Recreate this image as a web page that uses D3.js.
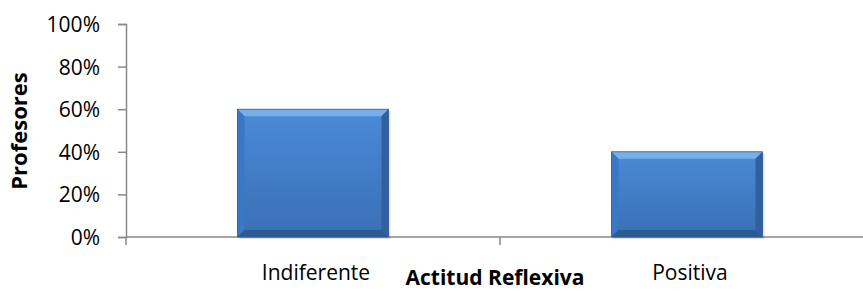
<!DOCTYPE html>
<meta charset="utf-8">
<style>
    body { margin: 0; background: #fff; }
    text { font-family: "Open Sans", "Liberation Sans", sans-serif; fill: #000; }
</style>
<body>
<script src="https://d3js.org/d3.v7.min.js"></script>
<script>
    var categories = ["Indiferente", "Positiva"];
    var values = [0.6, 0.4];
    var yTicks = [0, 0.2, 0.4, 0.6, 0.8, 1.0];

    var W = 863, H = 291;
    var margin = {top: 24, left: 126},
        width = 748,
        height = 213;

    var svg = d3.select("body").append("svg")
        .attr("width", W)
        .attr("height", H);

    var defs = svg.append("defs");
    var grad = defs.append("linearGradient").attr("id", "barGrad")
        .attr("x1", 0).attr("y1", 0).attr("x2", 0).attr("y2", 1);
    grad.append("stop").attr("offset", "0%").attr("stop-color", "#4a8ad8");
    grad.append("stop").attr("offset", "100%").attr("stop-color", "#3a6fb4");

    var g = svg.append("g")
        .attr("transform", "translate(" + margin.left + "," + margin.top + ")");

    var x = d3.scaleBand()
        .domain(categories)
        .range([0, width]);

    var y = d3.scaleLinear()
        .domain([0, 1])
        .range([height, 0]);

    // y axis
    var yAxis = g.append("g")
        .call(d3.axisLeft(y).tickValues(yTicks).tickFormat(d3.format(".0%")).tickSize(8).tickPadding(18));
    yAxis.select(".domain").attr("stroke", "#888").attr("stroke-width", 1.5);
    yAxis.selectAll(".tick line").attr("stroke", "#888").attr("stroke-width", 1.5);
    yAxis.selectAll(".tick text").style("font-size", "21px").attr("fill", "#000").attr("dy", "0.36em");

    // x axis
    var xAxis = g.append("g")
        .attr("transform", "translate(0," + height + ")");
    xAxis.append("line")
        .attr("x1", 0).attr("x2", width)
        .attr("stroke", "#888").attr("stroke-width", 1.5);
    var bounds = [0].concat(categories.map(c => x(c) + x.bandwidth()));
    xAxis.selectAll(".xtick").data(bounds.slice(0, 2)).enter().append("line")
        .attr("x1", d => d).attr("x2", d => d)
        .attr("y1", 0).attr("y2", 8)
        .attr("stroke", "#888").attr("stroke-width", 1.5);
    xAxis.selectAll(".xlab").data(categories).enter().append("text")
        .attr("x", d => x(d) + x.bandwidth() / 2 + 3)
        .attr("y", 43)
        .attr("text-anchor", "middle")
        .style("font-size", "21px")
        .text(d => d);

    // bars
    var bw = 151;
    var bars = g.selectAll(".bar").data(categories).enter().append("g").attr("class", "bar");
    bars.each(function(c, i) {
        var bx = x(c) + x.bandwidth() / 2 - bw / 2;
        var by = y(values[i]);
        var bh = height - by;
        var b = 7;
        var s = d3.select(this);
        s.append("rect")
            .attr("x", bx + 2).attr("y", by + 2).attr("width", bw).attr("height", bh)
            .attr("fill", "#000").attr("opacity", 0.12);
        s.append("rect")
            .attr("x", bx).attr("y", by).attr("width", bw).attr("height", bh)
            .attr("fill", "url(#barGrad)");
        // bevel: top
        s.append("polygon")
            .attr("points", [[bx, by], [bx + bw, by], [bx + bw - b, by + b], [bx + b, by + b]].join(" "))
            .attr("fill", "#7fb6ec").attr("opacity", 0.85);
        // left
        s.append("polygon")
            .attr("points", [[bx, by], [bx + b, by + b], [bx + b, by + bh - b], [bx, by + bh]].join(" "))
            .attr("fill", "#3a78c6");
        // right
        s.append("polygon")
            .attr("points", [[bx + bw, by], [bx + bw - b, by + b], [bx + bw - b, by + bh - b], [bx + bw, by + bh]].join(" "))
            .attr("fill", "#30609f");
        // bottom
        s.append("polygon")
            .attr("points", [[bx, by + bh], [bx + b, by + bh - b], [bx + bw - b, by + bh - b], [bx + bw, by + bh]].join(" "))
            .attr("fill", "#2c5a94");
        s.append("rect")
            .attr("x", bx).attr("y", by).attr("width", bw).attr("height", bh)
            .attr("fill", "none").attr("stroke", "#2e5c96").attr("stroke-width", 0.8);
    });

    // axis titles
    svg.append("text")
        .attr("x", 495).attr("y", 285)
        .attr("text-anchor", "middle")
        .style("font-size", "21px").style("font-weight", "bold")
        .text("Actitud Reflexiva");

    svg.append("text")
        .attr("transform", "translate(27," + 131 + ") rotate(-90)")
        .attr("text-anchor", "middle")
        .style("font-size", "22px").style("font-weight", "bold")
        .text("Profesores");
</script>
</body>
</html>
